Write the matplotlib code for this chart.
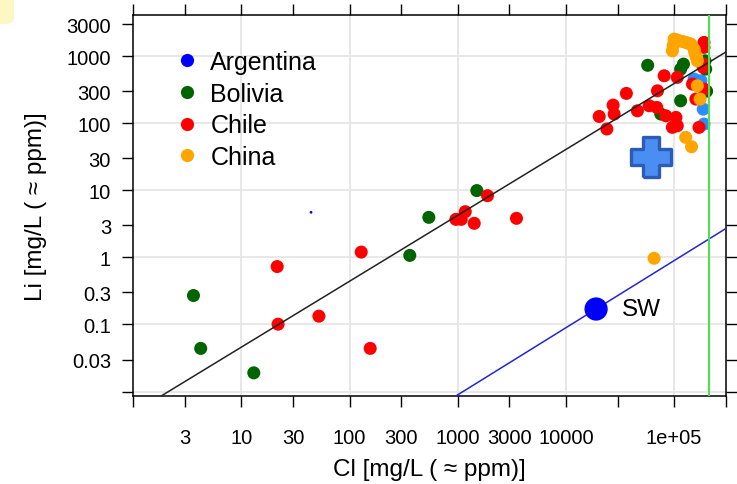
import matplotlib
matplotlib.use("Agg")
import matplotlib.pyplot as plt
import numpy as np
from matplotlib.lines import Line2D
from matplotlib.patches import FancyBboxPatch

plt.rcParams['font.family'] = ['Liberation Sans', 'DejaVu Sans']

# ---------------- data (Cl mg/L, Li mg/L) ----------------
arg_cl = [1.53e5, 1.77e5, 1.86e5, 1.89e5]
arg_li = [455, 429, 162, 97]

bol_cl = [3.6, 4.2, 13, 360, 540, 1500, 57000, 1.22e5, 1.15e5, 1.93e5, 1.96e5,
          1.15e5, 75300, 2.0e5]
bol_li = [0.27, 0.044, 0.019, 1.07, 3.95, 9.9, 730, 760, 640, 851, 640,
          216, 137, 300]

chi_cl = [21.4, 21.8, 52, 128, 155, 961, 1077, 1173, 1419, 1884, 3490,
          20300, 23900, 27300, 27900, 36200, 45800, 58800, 69200, 70200, 81000,
          1.07e5, 1.89e5, 1.89e5, 1.86e5, 1.86e5, 1.48e5, 1.89e5, 1.59e5,
          83800, 1.04e5, 1.07e5, 96400, 1.70e5]
chi_li = [0.73, 0.101, 0.133, 1.2, 0.044, 3.69, 3.69, 4.8, 3.22, 8.3, 3.82,
          126, 82, 186, 137, 278, 153, 182, 172, 304, 509,
          482, 1600, 1350, 760, 679, 383, 323, 229,
          129, 122, 91.6, 86.7, 86.7]

chn_cl = [1.0e5, 1.05e5, 1.11e5, 1.2e5, 1.28e5, 1.36e5, 1.43e5, 1.53e5, 1.55e5,
          1.59e5, 1.62e5, 1.64e5, 96400, 98000, 1.64e5, 1.74e5, 1.28e5, 1.45e5, 65300]
chn_li = [1792, 1750, 1690, 1650, 1600, 1550, 1510, 1270, 1150,
          1010, 930, 852, 1200, 1450, 361, 229, 61.5, 44.6, 0.97]

stray_cl = [44]
stray_li = [4.7]

sw_cl = 19000
sw_li = 0.17

cross_cl = 61400
cross_li = 31

fit_slope = 0.982
fit_intercept = -2.319
halite_cl = 2.1e5

countries = ["Argentina", "Bolivia", "Chile", "China"]
colors = ["#2a8cff", "#006400", "#ff0000", "#ffa500"]
legend_colors = ["#0000ff", "#006400", "#ff0000", "#ffa500"]

x_ticks = [1, 3, 10, 30, 100, 300, 1000, 3000, 10000, 30000, 1e5, 3e5]
x_labels = ["", "3", "10", "30", "100", "300", "1000", "3000", "10000", "", "1e+05", ""]
y_ticks = [0.01, 0.03, 0.1, 0.3, 1, 3, 10, 30, 100, 300, 1000, 3000]
y_labels = ["", "0.03", "0.1", "0.3", "1", "3", "10", "30", "100", "300", "1000", "3000"]

# ---------------- figure ----------------
W, H = 737, 485
fig = plt.figure(figsize=(W / 100, H / 100), dpi=100)
ax = fig.add_axes([133.3 / W, 1 - 397.3 / H, (725.7 - 133.3) / W, (397.3 - 16) / H])
ax.set_xscale('log')
ax.set_yscale('log')
ax.set_xlim(1, 3e5)
ax.set_ylim(0.0085, 4100)

for v in [10, 100, 1000, 1e4, 1e5]:
    ax.axvline(v, color='#e6e6e6', lw=1.3, zorder=0)
for v in [0.01, 0.1, 1, 10, 100, 1000]:
    ax.axhline(v, color='#e6e6e6', lw=1.3, zorder=0)

data = [(arg_cl, arg_li), (bol_cl, bol_li), (chi_cl, chi_li), (chn_cl, chn_li)]
for (xs, ys), c in zip(data, colors):
    ax.scatter(xs, ys, s=88, color=c, edgecolors='none', zorder=3)

ax.scatter(stray_cl, stray_li, s=4, color='#0000ff', edgecolors='none', zorder=3)

# lines
xx = np.logspace(0, np.log10(3e5), 200)
ax.plot(xx, 10 ** fit_intercept * xx ** fit_slope, color='#222222', lw=1.1, zorder=4)
ax.plot(xx, sw_li / sw_cl * xx, color='#2424d8', lw=1.1, zorder=4)
ax.axvline(halite_cl, color='#4ee04e', lw=1.5, zorder=4)

ax.scatter([sw_cl], [sw_li], s=280, color='#0000ff', edgecolors='none', zorder=5)
ax.text(sw_cl * 1.75, sw_li, "SW", fontsize=17.5, va='center', ha='left', zorder=6)

# cross marker
a = 0.2
cross_verts = [(-a, -0.5), (a, -0.5), (a, -a), (0.5, -a), (0.5, a), (a, a), (a, 0.5),
               (-a, 0.5), (-a, a), (-0.5, a), (-0.5, -a), (-a, -a), (-a, -0.5)]
ax.plot([cross_cl], [cross_li], marker=cross_verts, markersize=29,
        markerfacecolor='#4b8ef2', markeredgecolor='#2d5cb8', markeredgewidth=2.4,
        linestyle='none', zorder=6)

# axes styling
ax.set_xticks(x_ticks)
ax.set_xticklabels(x_labels)
ax.set_yticks(y_ticks)
ax.set_yticklabels(y_labels)
ax.minorticks_off()
ax.tick_params(which='major', direction='out', length=8, width=1.0,
               top=True, right=True, labeltop=False, labelright=False,
               labelsize=14.5)
ax.tick_params(axis='x', pad=15)
ax.tick_params(axis='y', pad=8)
for sp in ax.spines.values():
    sp.set_linewidth(1.1)

ax.set_xlabel("Cl [mg/L ( ≈ ppm)]", fontsize=17.5, labelpad=8)
ax.set_ylabel("Li [mg/L ( ≈ ppm)]", fontsize=17.5, labelpad=14)

handles = [Line2D([], [], marker='o', linestyle='none', markersize=9.5,
                  markerfacecolor=c, markeredgecolor='none') for c in legend_colors]
ax.legend(handles, countries, loc='upper left', bbox_to_anchor=(0.052, 0.935),
          frameon=False, fontsize=18, handletextpad=0.45, labelspacing=0.31,
          handlelength=1.0, borderaxespad=0)

# small pale yellow corner artifact
fig.patches.append(FancyBboxPatch((-8 / W, 1 - 25 / H), 22 / W, 33 / H,
                                  boxstyle="round,pad=0,rounding_size=0.012",
                                  transform=fig.transFigure, facecolor='#fdf7c3',
                                  edgecolor='none', zorder=0))

fig.savefig("out.png", dpi=100)
